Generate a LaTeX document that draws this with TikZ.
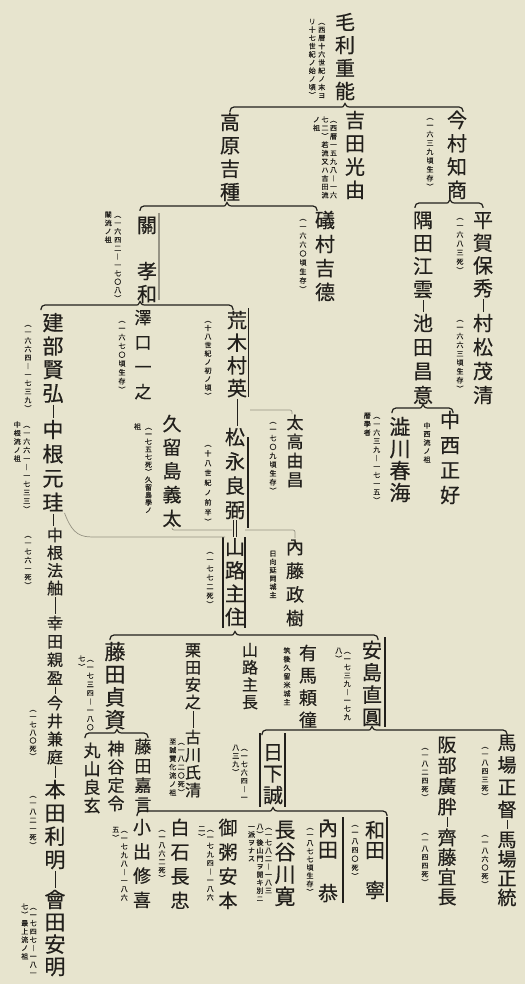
\documentclass[tikz,border=0pt]{standalone}
\usepackage{fontspec}
\setmainfont{Noto Sans CJK JP}[FakeBold=0.5]
\usetikzlibrary{calc}
\definecolor{paper}{RGB}{231,228,206}
\definecolor{ink}{RGB}{34,32,28}
\definecolor{soft}{RGB}{150,147,132}
\ExplSyntaxOn
\NewDocumentCommand\vt{O{1.2em}m}{
  \vtop{
    \baselineskip=#1\relax
    \lineskiplimit=-\maxdimen
    \tl_map_inline:nn {#2}{
      \hbox_to_wd:nn {1em}{\hss\rule[-0.12em]{0pt}{1em}##1\hss}
    }
  }
}
\ExplSyntaxOff
\newcommand\brc[7]{%
  \pgfmathsetmacro\brY{#7}\pgfmathsetmacro\brZ{#7+5}\pgfmathsetmacro\brC{#7-3.5}%
  \coordinate (bl0) at ([xshift=#2pt]#1.north);
  \coordinate (bp0) at ([xshift=#4pt]#3.south);
  \coordinate (br0) at ([xshift=#6pt]#5.north);
  \coordinate (bL) at (bl0 |- 0,\brZ);
  \coordinate (bP) at (bp0 |- 0,\brY);
  \coordinate (bQ) at (bp0 |- 0,\brC);
  \coordinate (bR) at (br0 |- 0,\brZ);
  \draw[br] (bL) [rounded corners=4pt] |- ([xshift=-7pt]bP) [sharp corners]
     .. controls ([xshift=-2pt]bP) .. (bQ) .. controls ([xshift=2pt]bP) .. ([xshift=7pt]bP)
     [rounded corners=4pt] -| (bR);
}
\newcommand\sidebar[6][bar]{%
  \coordinate (sb) at ([xshift=#4pt]#2.#3);
  \draw[#1] (sb |- 0,#5) -- (sb |- 0,#6);
}
\tikzset{
  nm/.style={inner sep=0pt,outer sep=0pt,anchor=north,text=ink,font=\fontsize{#1}{#1}\selectfont},
  nm/.default=20,
  an/.style={inner sep=0pt,outer sep=0pt,anchor=north,text=ink,font=\fontsize{7}{7}\selectfont},
  br/.style={draw=ink,line width=1.2pt},
  ln/.style={draw=ink,line width=0.9pt,shorten <=1pt,shorten >=1pt},
  bar/.style={draw=ink,line width=1.3pt},
  gbar/.style={draw=soft,line width=1.4pt},
  gl/.style={draw=soft,line width=0.7pt},
}
\begin{document}
\begin{tikzpicture}[x=1pt,y=-1pt]
\useasboundingbox (0,0) rectangle (525,984);
\fill[paper] (0,0) rectangle (525,984);

% generation 0-1
\node[nm] (mouri) at (345,12) {\vt[23pt]{毛利重能}};
\node[an] (mouriA) at (317,18) {\vt[8.2pt]{リ十七世紀ノ始ノ頃︶}\kern2.5pt\vt[8.2pt]{︵西暦十六世紀ノ末ヨ}};
\node[nm] (takahara) at (230,112) {\vt[23.3pt]{高原吉種}};
\node[nm] (yoshida) at (355,110) {\vt[23.3pt]{吉田光由}};
\node[an] (yoshidaA) at (325,116) {\vt[8.4pt]{ノ祖}\kern1.5pt\vt[8.4pt]{七二︶若流又ハ吉田流}\kern1.5pt\vt[8.4pt]{︵西暦一五九八︱一六}};
\node[nm] (imamura) at (457,110) {\vt[23.3pt]{今村知商}};
\node[an] (imamuraA) at (430,113) {\vt[8.8pt]{︵一六三九頃生存︶}};

% generation 2
\node[nm] (seki) at (147,215) {\vt[23pt]{關　孝和}};
\node[an] (sekiA) at (113,211) {\vt[8.4pt]{關流ノ祖}\kern2.5pt\vt[8.4pt]{︵一六四二︱一七〇八︶}};
\node[nm] (isomura) at (325,210) {\vt[24pt]{礒村吉德}};
\node[an] (isomuraA) at (303,214) {\vt[9pt]{︵一六六〇頃生存︶}};
\node[nm] (hiraga) at (483,210) {\vt[22.7pt]{平賀保秀}};
\node[an] (hiragaA) at (460,213) {\vt[9pt]{︵一六八三死︶}};
\node[nm] (muramatsu) at (483,313) {\vt[24pt]{村松茂清}};
\node[an] (muramatsuA) at (460,315) {\vt[8.8pt]{︵一六六三頃生存︶}};
\node[nm] (sumida) at (423,210) {\vt[23pt]{隅田江雲}};
\node[nm] (ikeda) at (423,313) {\vt[24pt]{池田昌意}};
\node[nm] (nakanishi) at (450,410) {\vt[25pt]{中西正好}};
\node[an] (nakanishiA) at (427,422) {\vt[8.5pt]{中西流ノ祖}};
\node[nm=21] (shibukawa) at (400,416) {\vt[22pt]{澁川春海}};
\node[an] (shibukawaA) at (372,412) {\vt[8.5pt]{暦學者}\kern2.5pt\vt[8.5pt]{︵一六三九︱一七一五︶}};

% generation 3 (Seki school)
\node[nm=21] (takebe) at (53,312) {\vt[23.5pt]{建部賢弘}};
\node[an] (takebeA) at (28,320) {\vt[8.5pt]{︵一六六四︱一七三九︶}};
\node[nm=17] (sawaguchi) at (143,309) {\vt[24.7pt]{澤口一之}};
\node[an] (sawaguchiA) at (122,316) {\vt[8.8pt]{︵一六七〇頃生存︶}};
\node[nm] (araki) at (237,310) {\vt[22.7pt]{荒木村英}};
\node[an] (arakiA) at (208,316) {\vt[8.5pt]{︵十八世紀ノ初ノ頃︶}};
\node[nm=21] (nakane) at (53,419) {\vt[24.3pt]{中根元珪}};
\node[an] (nakaneA) at (22,421) {\vt[8.5pt]{中根流ノ祖}\kern2.5pt\vt[8.5pt]{︵一六六一︱一七三三︶}};
\node[nm=16] (hojiku) at (55,527) {\vt[17.7pt]{中根法舳}};
\node[an] (hojikuA) at (28,531) {\vt[8.5pt]{︵一七六一死︶}};
\node[nm=16] (koda) at (55,615) {\vt[18.3pt]{幸田親盈}};
\node[nm=16] (imai) at (55,695) {\vt[18pt]{今井兼庭}};
\node[an] (imaiA) at (33,705) {\vt[8pt]{︵一七八〇死︶}};
\node[nm=21] (honda) at (55,779) {\vt[23.3pt]{本田利明}};
\node[an] (hondaA) at (33,791) {\vt[8.5pt]{︵一八二一死︶}};
\node[nm=21] (aida) at (55,889) {\vt[22.3pt]{會田安明}};
\node[an] (aidaA) at (29,903) {\vt[8.3pt]{七︶最上流ノ祖}\kern1.5pt\vt[8.3pt]{︵一七四七︱一八一}};
\node[nm=19] (kurushima) at (172,414) {\vt[23.7pt]{久留島義太}};
\node[an] (kurushimaA) at (143,423) {\vt[7.6pt]{祖}\kern4pt\vt[7.6pt]{︵一七五七死︶久留島學ノ}};
\node[nm] (matsunaga) at (235,427) {\vt[24.3pt]{松永良弼}};
\node[an] (matsunagaA) at (208,440) {\vt[9.8pt]{︵十八世紀ノ前半︶}};
\node[nm=17] (otaka) at (295,414) {\vt[19pt]{太高由昌}};
\node[an] (otakaA) at (273,417) {\vt[8.8pt]{︵一七〇九頃生存︶}};
\node[nm] (yamaji) at (235,537) {\vt[23.3pt]{山路主住}};
\node[an] (yamajiA) at (210,547) {\vt[9pt]{︵一七七二死︶}};
\node[nm=18] (naito) at (295,538) {\vt[23.7pt]{內藤政樹}};
\node[an] (naitoA) at (273,550) {\vt[8.3pt]{日向延岡城主}};

% Yamaji school
\node[nm=21] (fujita) at (115,641) {\vt[22.7pt]{藤田貞資}};
\node[an] (fujitaA) at (86,655) {\vt[8.6pt]{七︶}\kern1.5pt\vt[8.6pt]{︵一七三四︱一八〇}};
\node[nm=16] (kurita) at (193,642) {\vt[17.3pt]{栗田安之}};
\node[nm=16] (furukawa) at (193,729) {\vt[17.7pt]{古川氏清}};
\node[an] (furukawaA) at (177,738) {\vt[8.5pt]{至誠賛化流ノ祖}\kern1.5pt\vt[8.5pt]{︵一八二〇死︶}};
\node[nm=16] (yamajiN) at (250,642) {\vt[17.3pt]{山路主長}};
\node[nm=18] (arima) at (308,644) {\vt[22.3pt]{有馬頼徸}};
\node[an] (arimaA) at (287,647) {\vt[8.6pt]{筑後久留米城主}};
\node[nm] (yasujima) at (372,640) {\vt[22.3pt]{安島直圓}};
\node[an] (yasujimaA) at (343,647) {\vt[8.3pt]{八︶}\kern1.5pt\vt[8.3pt]{︵一七三九︱一七九}};
\node[nm=17] (maruyama) at (92,742) {\vt[18.3pt]{丸山良玄}};
\node[nm=17] (kamiya) at (116,740) {\vt[18.3pt]{神谷定令}};
\node[nm=17] (fujitaY) at (143,738) {\vt[19.3pt]{藤田嘉言}};

% Yasujima school
\node[nm] (kusaka) at (273,742) {\vt[21.5pt]{日下誠}};
\node[an] (kusakaA) at (240,744) {\vt[8.3pt]{八三九︶}\kern1.5pt\vt[8.3pt]{︵一七六四︱一}};
\node[nm=19] (sakabe) at (447,735) {\vt[20.7pt]{阪部廣胖}};
\node[an] (sakabeA) at (425,743) {\vt[8.5pt]{︵一八二四死︶}};
\node[nm=19] (saito) at (447,828) {\vt[19.7pt]{齊藤宜長}};
\node[an] (saitoA) at (425,828) {\vt[8.5pt]{︵一八四四死︶}};
\node[nm=19] (babaT) at (507,733) {\vt[22.3pt]{馬場正督}};
\node[an] (babaTA) at (485,742) {\vt[8.5pt]{︵一八四三死︶}};
\node[nm=19] (babaS) at (507,830) {\vt[19.3pt]{馬場正統}};
\node[an] (babaSA) at (485,830) {\vt[8.5pt]{︵一八六〇死︶}};

% Kusaka school
\node[nm] (wada) at (375,820) {\vt[20pt]{和田　寧}};
\node[an] (wadaA) at (355,820) {\vt[8.8pt]{︵一八四〇死︶}};
\node[nm] (uchida) at (328,818) {\vt[21.7pt]{內田　恭}};
\node[an] (uchidaA) at (310,823) {\vt[8.2pt]{︵一八七七頃生存︶}};
\node[nm=21] (hasegawa) at (285,819) {\vt[22.3pt]{長谷川寛}};
\node[an] (hasegawaA) at (260,823) {\vt[8pt]{一派ヲナス}\kern1.5pt\vt[8pt]{八︶後山門ヲ開キ別ニ}\kern1.5pt\vt[8pt]{︵一七八二︱一八三}};
\node[nm=19] (mikayu) at (228,818) {\vt[24.3pt]{御粥安本}};
\node[an] (mikayuA) at (206,825) {\vt[8.6pt]{二︶}\kern1.5pt\vt[8.6pt]{︵一七九四︱一八六}};
\node[nm=19] (shiraishi) at (180,818) {\vt[24.3pt]{白石長忠}};
\node[an] (shiraishiA) at (162,825) {\vt[8.3pt]{︵一八六二死︶}};
\node[nm=18] (koide) at (142,818) {\vt[24.3pt]{小出修喜}};
\node[an] (koideA) at (120,826) {\vt[8.5pt]{五︶}\kern1.5pt\vt[8.5pt]{︵一七九八︱一八六}};

% braces
\brc{takahara}{0}{mouri}{0}{imamura}{6}{107}
\brc{seki}{-7}{takahara}{-3}{isomura}{-8}{206}
\brc{sumida}{-8}{imamura}{-7}{hiraga}{0}{203}
\brc{shibukawa}{-8}{ikeda}{0}{nakanishi}{3}{408}
\brc{takebe}{-12}{seki}{-7}{araki}{-4}{305}
\brc{fujita}{-5}{yamaji}{0}{yasujima}{6}{635}
\brc{maruyama}{-7}{fujita}{2}{fujitaY}{5}{733}
\brc{kusaka}{-11}{yasujima}{0}{babaT}{0}{730}
\brc{koide}{-5}{kusaka}{0}{wada}{12}{811}

% chain connectors
\draw[ln] (hiraga.south) -- (hiraga.south |- muramatsu.north);
\draw[ln] (sumida.south) -- (sumida.south |- ikeda.north);
\draw[ln] (takebe.south) -- (takebe.south |- nakane.north);
\draw[ln] (nakane.south) -- (nakane.south |- hojiku.north);
\draw[ln] (hojiku.south) -- (hojiku.south |- koda.north);
\draw[ln] (koda.south) -- (koda.south |- imai.north);
\draw[ln] (imai.south) -- (imai.south |- honda.north);
\draw[ln] (honda.south) -- (honda.south |- aida.north);
\draw[ln] (araki.south) -- (araki.south |- matsunaga.north);
\draw[ln] (kurita.south) -- (kurita.south |- furukawa.north);
\draw[ln] (sakabe.south) -- (sakabe.south |- saito.north);
\draw[ln] (babaT.south) -- (babaT.south |- babaS.north);
\draw[draw=ink,line width=0.6pt,double=paper,double distance=2.2pt] (matsunaga.south) -- (matsunaga.south |- yamaji.north);

% side bars
\sidebar[gbar]{seki}{east}{2}{213}{300}
\sidebar{araki}{east}{1.5}{308}{397}
\sidebar{matsunaga}{east}{3}{437}{528}
\sidebar{yamaji}{west}{-2}{537}{628}
\sidebar{yamaji}{east}{0}{537}{628}
\sidebar{yasujima}{east}{3}{637}{727}
\sidebar{kusaka}{west}{-3}{733}{807}
\sidebar{kusaka}{east}{2}{733}{807}
\sidebar{uchida}{east}{5}{817}{903}
\sidebar{wada}{east}{2}{817}{902}

% thin grey links
\coordinate (ak) at ([xshift=3pt]araki.east);
\draw[gl,rounded corners=2pt] (ak |- 0,410) -| ([xshift=-3pt]otaka.north);
\coordinate (yk) at (yamaji.east);
\draw[gl,rounded corners=2pt] (yk |- 0,530) -| (naito.north);
\coordinate (yj) at ([xshift=-3pt]yamaji.north);
\draw[gl,rounded corners=2pt] (kurushima.south) |- (yj |- 0,530);
\draw[gl] ([xshift=1pt]nakane.south east) .. controls +(6,16) and +(-14,0) .. ++(26,24) -- (yamaji.north west);
\end{tikzpicture}
\end{document}
